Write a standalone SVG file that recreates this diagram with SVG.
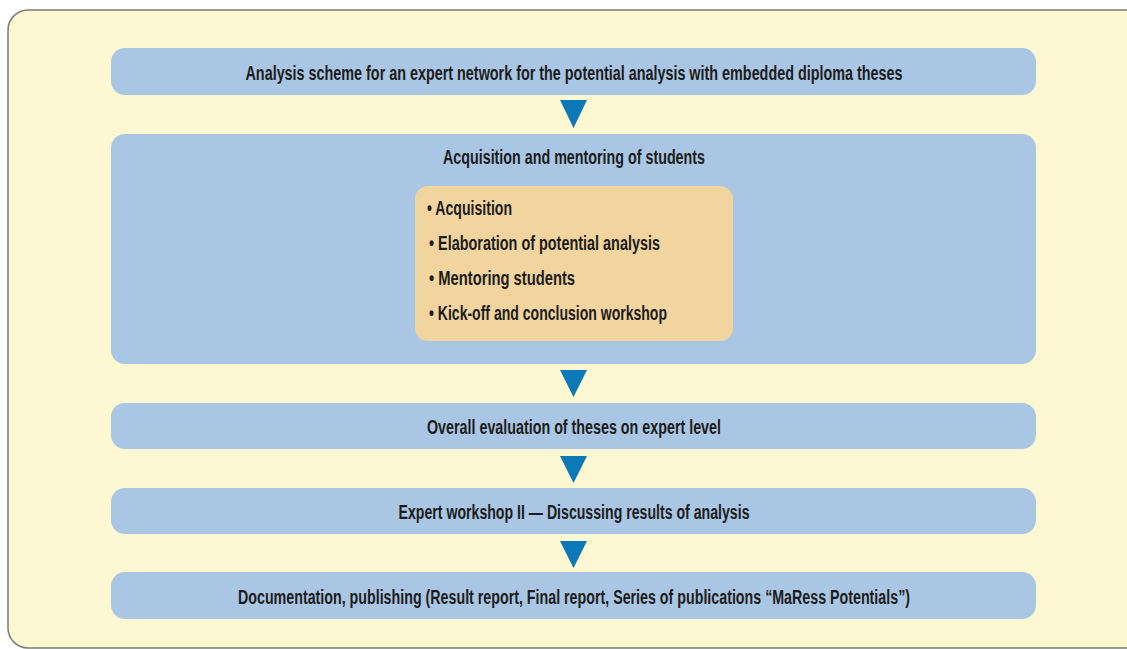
<svg xmlns="http://www.w3.org/2000/svg" width="1127" height="649" viewBox="0 0 1127 649">
<style>
.box{fill:#a9c7e4}
.t{font-family:"Liberation Sans",Arial,sans-serif;font-weight:bold;font-size:20px;fill:#1c1c1c;text-anchor:middle}
.b{font-family:"Liberation Sans",Arial,sans-serif;font-weight:bold;font-size:20px;fill:#1c1c1c}
.arr{fill:#0b79b8}
</style>
<rect x="0" y="0" width="1127" height="649" fill="#ffffff"/>
<rect x="8" y="10" width="1140" height="638" rx="20" fill="#fdf7d2" stroke="#7a7a7a" stroke-width="1.5"/>
<g id="n1"><rect class="box" x="111" y="48" width="925" height="47" rx="14"/>
<text class="t" x="574" y="80" textLength="657" lengthAdjust="spacingAndGlyphs">Analysis scheme for an expert network for the potential analysis with embedded diploma theses</text></g>
<g id="n2"><rect class="box" x="111" y="134" width="925" height="230" rx="14"/>
<text class="t" x="574" y="164" textLength="262" lengthAdjust="spacingAndGlyphs">Acquisition and mentoring of students</text></g>
<g id="n2a"><rect x="415" y="186" width="318" height="155" rx="13" fill="#f2d49e"/>
<text class="b" x="427" y="215" textLength="85" lengthAdjust="spacingAndGlyphs">• Acquisition</text>
<text class="b" x="429" y="250" textLength="231" lengthAdjust="spacingAndGlyphs">• Elaboration of potential analysis</text>
<text class="b" x="429" y="285" textLength="146" lengthAdjust="spacingAndGlyphs">• Mentoring students</text>
<text class="b" x="429" y="320" textLength="238" lengthAdjust="spacingAndGlyphs">• Kick-off and conclusion workshop</text></g>
<g id="n3"><rect class="box" x="111" y="403" width="925" height="46" rx="14"/>
<text class="t" x="574" y="434" textLength="294" lengthAdjust="spacingAndGlyphs">Overall evaluation of theses on expert level</text></g>
<g id="n4"><rect class="box" x="111" y="488" width="925" height="46" rx="14"/>
<text class="t" x="574" y="519" textLength="351" lengthAdjust="spacingAndGlyphs">Expert workshop II — Discussing results of analysis</text></g>
<g id="n5"><rect class="box" x="111" y="572" width="925" height="47" rx="14"/>
<text class="t" x="574" y="604" textLength="672" lengthAdjust="spacingAndGlyphs">Documentation, publishing (Result report, Final report, Series of publications “MaRess Potentials”)</text></g>
<g id="connectors">
<polygon class="arr" points="560,100 587,100 573.5,128"/>
<polygon class="arr" points="560,370 587,370 573.5,397"/>
<polygon class="arr" points="560,456 587,456 573.5,483"/>
<polygon class="arr" points="560,541 587,541 573.5,568"/>
</g>
</svg>
